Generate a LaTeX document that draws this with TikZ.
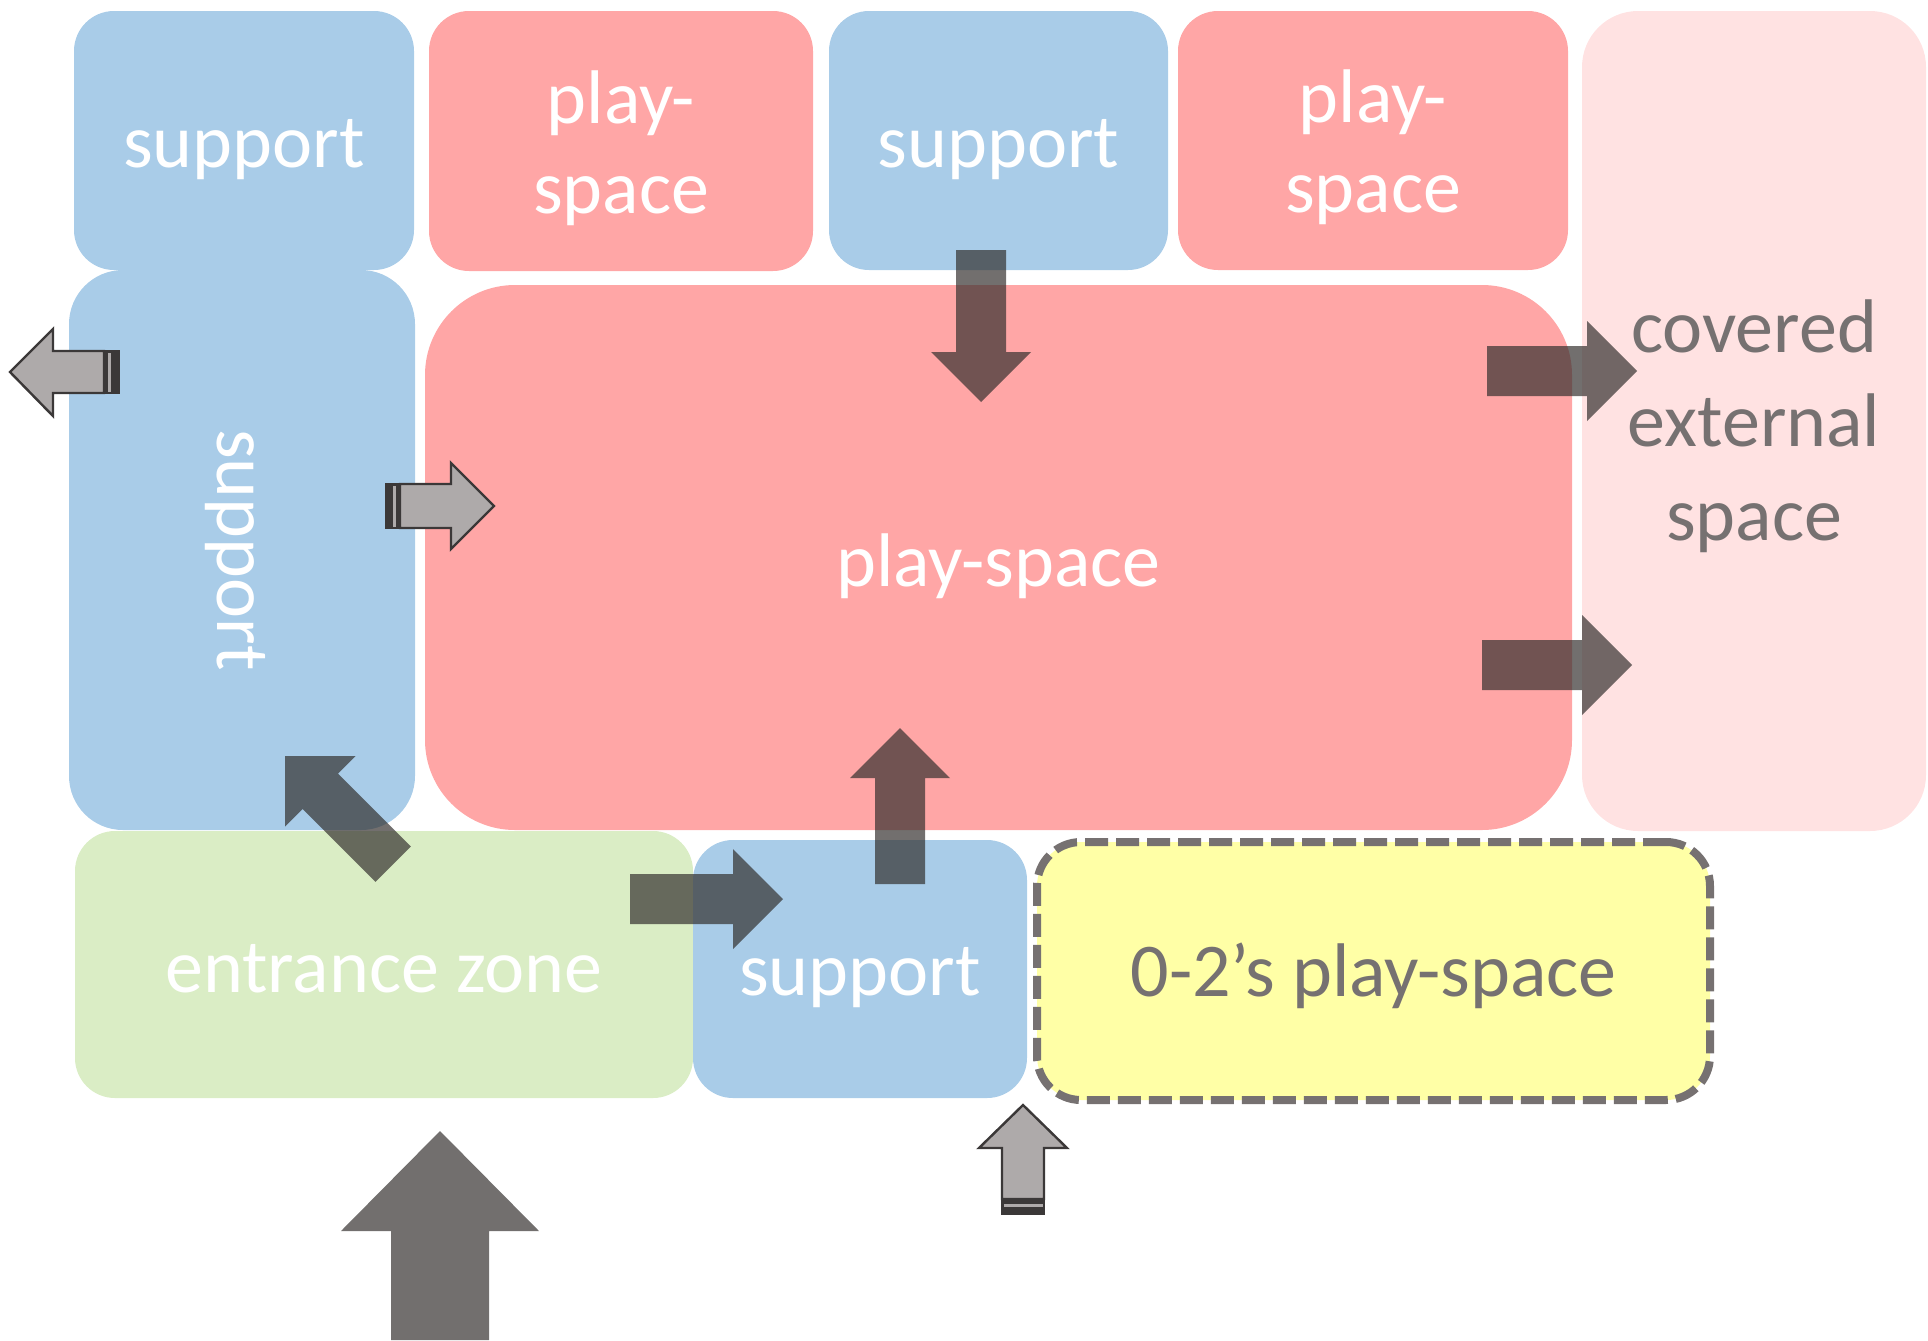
\documentclass[tikz,border=0pt]{standalone}
\usepackage{fontspec}
\setmainfont{Carlito}
\definecolor{zblue}{HTML}{A9CCE8}
\definecolor{zred}{HTML}{FFA6A6}
\definecolor{zpink}{HTML}{FFE2E2}
\definecolor{zgreen}{HTML}{DAEDC5}
\definecolor{zyellow}{HTML}{FFFFA6}
\definecolor{ztext}{HTML}{767171}
\definecolor{adark}{RGB}{50,47,45}
\definecolor{alight}{HTML}{AEAAAA}
\definecolor{aline}{HTML}{3B3838}
\begin{document}
\begin{tikzpicture}[x=0.5pt,y=-0.5pt,
  zone/.style={rectangle, rounded corners=20pt, inner sep=0pt},
  ztxt/.style={inner sep=0pt, text=white, font=\fontsize{38}{45}\selectfont, align=center},
  darrow/.style={fill=adark, fill opacity=0.69},
  larrow/.style={fill=alight, draw=aline, line width=1.2pt, line join=miter},
  stripe/.style={fill=aline}]
\useasboundingbox (0,0) rectangle (1928,1340);
% zones
\node[zone, fill=zblue, minimum width=170pt, minimum height=129.5pt] (sup1) at (244,140.5) {};
\node[zone, fill=zred, minimum width=192pt, minimum height=130pt] (play1) at (621,141) {};
\node[zone, fill=zblue, minimum width=169.5pt, minimum height=129.5pt] (sup2) at (998.5,140.5) {};
\node[zone, fill=zred, minimum width=195pt, minimum height=129.5pt] (play2) at (1373,140.5) {};
\node[zone, fill=zpink, rounded corners=28pt, minimum width=172pt, minimum height=410pt] (covered) at (1754,421) {};
\node[zone, fill=zblue, rounded corners=27pt, minimum width=173pt, minimum height=280pt] (leftsup) at (242,550) {};
\node[zone, fill=zred, rounded corners=45pt, minimum width=573.5pt, minimum height=272.5pt] (main) at (998.5,557.5) {};
\node[zone, fill=zgreen, minimum width=309pt, minimum height=133.5pt] (entrance) at (384,964.5) {};
\node[zone, fill=zblue, minimum width=167pt, minimum height=129pt] (supb) at (860,969) {};
\node[zone, fill=zyellow, rounded corners=22pt, draw=ztext, line width=4pt,
  dash pattern=on 11.5pt off 4pt, minimum width=336.5pt, minimum height=129pt] (yellow) at (1373.5,971) {};
% texts
\node[ztxt] (sup1t) at ([yshift=-4.3pt]sup1.center) {support};
\node[ztxt] (play1t) at ([yshift=-3.4pt]play1.center) {play-\\space};
\node[ztxt] (sup2t) at ([yshift=-4.3pt]sup2.center) {support};
\node[ztxt] (play2t) at ([yshift=-3.4pt]play2.center) {play-\\space};
\node[ztxt, text=ztext, font=\fontsize{38}{47}\selectfont] (coveredt) at ([yshift=-2.5pt]covered.center) {covered\\external\\space};
\node[ztxt, rotate=-90] (lstext) at (235,550) {support};
\node[ztxt] (maint) at ([yshift=-4.3pt]main.center) {play-space};
\node[ztxt] (entrancet) at ([yshift=-2pt]entrance.center) {entrance zone};
\node[ztxt] (supbt) at ([yshift=-4.3pt]supb.center) {support};
\node[ztxt, text=ztext] (yellowt) at ([yshift=-2.5pt]yellow.center) {0-2’s play-space};
% dark block arrows
\path[darrow] (956,250) -- (1006,250) -- (1006,352) -- (1031,352) -- (981,402) -- (931,352) -- (956,352) -- cycle;
\path[darrow] (1487,346) -- (1587,346) -- (1587,321) -- (1637,371) -- (1587,421) -- (1587,396) -- (1487,396) -- cycle;
\path[darrow] (1482,640) -- (1582,640) -- (1582,615) -- (1632,665) -- (1582,715) -- (1582,690) -- (1482,690) -- cycle;
\path[darrow] (875,884) -- (875,778) -- (850,778) -- (900,728) -- (950,778) -- (925,778) -- (925,884) -- cycle;
\path[darrow] (630,874) -- (733,874) -- (733,849) -- (783,899) -- (733,949) -- (733,924) -- (630,924) -- cycle;
\path[darrow] (285,756) -- (355.7,756) -- (338,773.7) -- (410.9,846.5) -- (375.5,881.9) -- (302.7,809) -- (285,826.7) -- cycle;
\path[darrow] (440,1131) -- (539,1231) -- (489,1231) -- (489,1340) -- (391,1340) -- (391,1231) -- (341,1231) -- cycle;
% light striped arrows
\draw[larrow] (10,372) -- (53,329) -- (53,351) -- (104,351) -- (104,393) -- (53,393) -- (53,416) -- cycle;
\fill[stripe] (103,350) rectangle (119.5,394);
\fill[alight] (107.5,352.5) rectangle (111,391.5);
\draw[larrow] (494,506) -- (451,549) -- (451,528) -- (400,528) -- (400,484) -- (451,484) -- (451,463) -- cycle;
\fill[stripe] (384.5,483) rectangle (401,529);
\fill[alight] (392.5,485.5) rectangle (396,526.5);
\draw[larrow] (1023,1105) -- (1067,1148) -- (1044,1148) -- (1044,1199) -- (1002,1199) -- (1002,1148) -- (979,1148) -- cycle;
\fill[stripe] (1001,1198) rectangle (1045,1214.5);
\fill[alight] (1003.5,1203.5) rectangle (1042.5,1207);
\end{tikzpicture}
\end{document}
